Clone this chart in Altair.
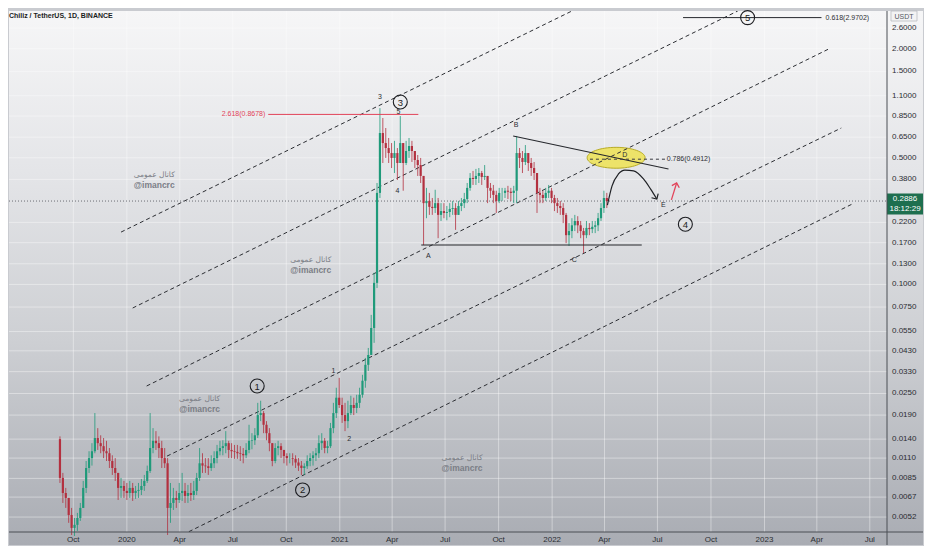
import altair as alt
import pandas as pd

W, H = 878, 521
FONT = "Liberation Sans"
UP, DOWN = "#1f9a7a", "#b3303f"
INK = "#2c2e33"
RED = "#e2445a"
TAG_GREEN = "#1e6f4f"
LABEL_INK = "#2b2d33"

# ---------------- candles (5-day candles) ----------------
CANDLE_START = "2019-09-08"
FIRST_OPEN = 0.0140
HIGH = [
    0.0145, 0.00911, 0.00753, 0.00663, 0.00584, 0.00514, 0.00548, 0.00622, 0.00823, 0.0106,
    0.0120, 0.0133, 0.0195, 0.0161, 0.0147, 0.0142, 0.0137, 0.0125, 0.0114, 0.0110,
    0.00911, 0.00855, 0.00823, 0.00802, 0.00823, 0.00802, 0.00772, 0.00802, 0.00844, 0.00888,
    0.0100, 0.0195, 0.0161, 0.0155, 0.0145, 0.0137, 0.0125, 0.0110, 0.00802, 0.00753,
    0.00725, 0.00802, 0.00911, 0.00802, 0.00782, 0.00802, 0.00823, 0.00911, 0.0125, 0.0117,
    0.0110, 0.0110, 0.0114, 0.0120, 0.0130, 0.0137, 0.0138, 0.0155, 0.0137, 0.0133,
    0.0130, 0.0130, 0.0128, 0.0125, 0.0133, 0.0168, 0.0151, 0.0161, 0.0222, 0.0228,
    0.0200, 0.0176, 0.0161, 0.0133, 0.0133, 0.0137, 0.0133, 0.0122, 0.0117, 0.0117,
    0.0117, 0.0114, 0.0110, 0.0106, 0.0103, 0.0114, 0.0117, 0.0120, 0.0125, 0.0147,
    0.0151, 0.0142, 0.0137, 0.0172, 0.0222, 0.0269, 0.0305, 0.0237, 0.0222, 0.0228,
    0.0243, 0.0237, 0.0246, 0.0269, 0.0317, 0.0393, 0.0446, 0.0679, 0.116, 0.363,
    0.94, 0.829, 0.730, 0.643, 0.603, 0.620, 0.566, 0.850, 0.603, 0.620,
    0.643, 0.620, 0.545, 0.518, 0.499, 0.397, 0.341, 0.320, 0.300, 0.333,
    0.300, 0.281, 0.281, 0.271, 0.281, 0.289, 0.281, 0.289, 0.300, 0.320,
    0.363, 0.412, 0.423, 0.434, 0.439, 0.423, 0.456, 0.397, 0.363, 0.354,
    0.329, 0.341, 0.341, 0.341, 0.350, 0.341, 0.350, 0.660, 0.566, 0.545,
    0.588, 0.531, 0.499, 0.474, 0.397, 0.341, 0.329, 0.341, 0.354, 0.341,
    0.312, 0.300, 0.289, 0.281, 0.248, 0.218, 0.232, 0.242, 0.238, 0.224,
    0.205, 0.224, 0.218, 0.224, 0.224, 0.248, 0.281, 0.329, 0.320,
]
LOW = [
    0.00802, 0.00622, 0.00584, 0.00483, 0.00414, 0.00409, 0.00436, 0.00495, 0.00584, 0.00706,
    0.00911, 0.0100, 0.0117, 0.0122, 0.0117, 0.0110, 0.0106, 0.00970, 0.00888, 0.00823,
    0.00646, 0.00663, 0.00663, 0.00646, 0.00663, 0.00638, 0.00655, 0.00663, 0.00688, 0.00725,
    0.00802, 0.00911, 0.0117, 0.0122, 0.0110, 0.00970, 0.00970, 0.00414, 0.00483, 0.00569,
    0.00584, 0.00622, 0.00638, 0.00622, 0.00622, 0.00638, 0.00646, 0.00688, 0.00823, 0.00911,
    0.00911, 0.00888, 0.00934, 0.00970, 0.0103, 0.0114, 0.0114, 0.0117, 0.0110, 0.0110,
    0.0109, 0.0109, 0.0106, 0.0103, 0.0110, 0.0117, 0.0123, 0.0130, 0.0142, 0.0176,
    0.0151, 0.0138, 0.0120, 0.00992, 0.0103, 0.0114, 0.0110, 0.0103, 0.0100, 0.0103,
    0.0100, 0.00970, 0.00934, 0.00888, 0.00888, 0.00958, 0.00992, 0.0100, 0.0106, 0.0110,
    0.0122, 0.0117, 0.0117, 0.0125, 0.0151, 0.0183, 0.0208, 0.0172, 0.0155, 0.0161,
    0.0190, 0.0190, 0.0195, 0.0208, 0.0237, 0.0269, 0.0333, 0.0446, 0.0476, 0.0955,
    0.300, 0.468, 0.499, 0.468, 0.439, 0.412, 0.377, 0.468, 0.329, 0.456,
    0.499, 0.474, 0.439, 0.397, 0.363, 0.165, 0.232, 0.242, 0.242, 0.248,
    0.180, 0.224, 0.232, 0.226, 0.235, 0.242, 0.200, 0.242, 0.254, 0.264,
    0.281, 0.329, 0.354, 0.354, 0.363, 0.354, 0.377, 0.281, 0.300, 0.281,
    0.248, 0.281, 0.289, 0.300, 0.296, 0.289, 0.281, 0.281, 0.439, 0.412,
    0.456, 0.423, 0.397, 0.377, 0.248, 0.281, 0.281, 0.289, 0.300, 0.281,
    0.254, 0.248, 0.242, 0.218, 0.169, 0.163, 0.180, 0.197, 0.192, 0.180,
    0.149, 0.180, 0.187, 0.192, 0.192, 0.197, 0.224, 0.248, 0.264,
]
CLOSE = [
    0.00855, 0.00706, 0.00663, 0.00534, 0.00453, 0.00471, 0.00514, 0.00584, 0.00753, 0.00970,
    0.0110, 0.0120, 0.0142, 0.0133, 0.0128, 0.0120, 0.0117, 0.0106, 0.00970, 0.00911,
    0.00753, 0.00772, 0.00725, 0.00706, 0.00753, 0.00706, 0.00725, 0.00734, 0.00772, 0.00823,
    0.00934, 0.0125, 0.0137, 0.0133, 0.0125, 0.0110, 0.0103, 0.00584, 0.00622, 0.00663,
    0.00646, 0.00706, 0.00725, 0.00680, 0.00706, 0.00688, 0.00725, 0.00855, 0.0103, 0.0100,
    0.00992, 0.00970, 0.0103, 0.0110, 0.0120, 0.0125, 0.0128, 0.0133, 0.0122, 0.0120,
    0.0119, 0.0117, 0.0116, 0.0114, 0.0122, 0.0137, 0.0138, 0.0147, 0.0190, 0.0195,
    0.0168, 0.0151, 0.0133, 0.0106, 0.0125, 0.0128, 0.0122, 0.0113, 0.0110, 0.0110,
    0.0109, 0.0104, 0.0100, 0.00970, 0.00992, 0.0106, 0.0110, 0.0114, 0.0117, 0.0133,
    0.0137, 0.0125, 0.0128, 0.0161, 0.0195, 0.0237, 0.0216, 0.0190, 0.0176, 0.0195,
    0.0216, 0.0208, 0.0222, 0.0246, 0.0294, 0.0360, 0.0408, 0.0575, 0.102, 0.320,
    0.685, 0.603, 0.566, 0.531, 0.499, 0.531, 0.468, 0.603, 0.468, 0.545,
    0.581, 0.545, 0.486, 0.456, 0.397, 0.281, 0.289, 0.268, 0.264, 0.281,
    0.242, 0.254, 0.248, 0.251, 0.261, 0.264, 0.242, 0.271, 0.281, 0.296,
    0.341, 0.387, 0.382, 0.397, 0.412, 0.392, 0.397, 0.341, 0.329, 0.312,
    0.289, 0.320, 0.320, 0.329, 0.325, 0.320, 0.329, 0.531, 0.499, 0.474,
    0.531, 0.468, 0.439, 0.412, 0.320, 0.312, 0.300, 0.320, 0.329, 0.300,
    0.281, 0.271, 0.264, 0.242, 0.187, 0.197, 0.212, 0.224, 0.212, 0.197,
    0.187, 0.205, 0.202, 0.208, 0.212, 0.232, 0.264, 0.300, 0.2886,
]

# ---------------- axes ----------------
X_DOMAIN = ["2019-06-21", "2023-07-22"]
Y_DOMAIN = [0.0043, 3.23]
X_TICKS = ["2019-10-01", "2020-01-01", "2020-04-01", "2020-07-01", "2020-10-01",
           "2021-01-01", "2021-04-01", "2021-07-01", "2021-10-01",
           "2022-01-01", "2022-04-01", "2022-07-01", "2022-10-01",
           "2023-01-01", "2023-04-01", "2023-07-01"]
X_TICK_LABELS = ["Oct", "2020", "Apr", "Jul", "Oct", "2021", "Apr", "Jul", "Oct",
                 "2022", "Apr", "Jul", "Oct", "2023", "Apr", "Jul"]
Y_TICKS = [2.6, 2.0, 1.5, 1.1, 0.85, 0.65, 0.5, 0.38, 0.22, 0.17, 0.13, 0.1, 0.075,
           0.055, 0.043, 0.033, 0.025, 0.019, 0.014, 0.011, 0.0085, 0.0067, 0.0052]
Y_TICK_LABELS = ["2.6000", "2.0000", "1.5000", "1.1000", "0.8500", "0.6500", "0.5000",
                 "0.3800", "0.2200", "0.1700", "0.1300", "0.1000", "0.0750", "0.0550",
                 "0.0430", "0.0330", "0.0250", "0.0190", "0.0140", "0.0110", "0.0085",
                 "0.0067", "0.0052"]
LAST_PRICE = 0.2886
LAST_PRICE_LABEL = "0.2886"
LAST_TIME = "18:12:29"
TITLE = "Chiliz / TetherUS, 1D, BINANCE"
UNIT = "USDT"

# ---------------- drawings ----------------
CH_ID = ["a", "a", "b", "b", "c", "c", "d", "d", "e", "e"]
CH_DATE = ["2019-12-22", "2022-02-04", "2020-01-11", "2022-11-16", "2020-02-04", "2023-04-21",
           "2020-03-10", "2023-05-13", "2020-03-26", "2023-06-04"]
CH_PRICE = [0.1945, 3.23, 0.0741, 3.23, 0.0275, 1.99, 0.01128, 0.730, 0.00399, 0.281]

PAT_ID = ["ac", "ac", "bd", "bd"]
PAT_DATE = ["2021-05-21", "2022-06-04", "2021-10-26", "2022-07-20"]
PAT_PRICE = [0.165, 0.165, 0.660, 0.434]

FIB_RED_DATE = ["2020-08-31", "2021-05-16"]
FIB_RED_PRICE = [0.8678, 0.8678]
FIB_TOP_DATE = ["2022-08-14", "2023-04-09"]
FIB_TOP_PRICE = [2.9702, 2.9702]
FIB_MID_DATE = ["2022-03-07", "2022-07-15"]
FIB_MID_PRICE = [0.4912, 0.4912]
FIB_TEXT = ["2.618(0.8678)", "0.786(0.4912)", "0.618(2.9702)"]
FIB_TEXT_DATE = ["2020-08-26", "2022-07-17", "2023-04-16"]
FIB_TEXT_PRICE = [0.8678, 0.4912, 2.9702]

ELLIPSE_DATE = ["2022-04-21"]
ELLIPSE_PRICE = [0.50]

CURVE_DATE = ["2022-04-06", "2022-04-14", "2022-04-25", "2022-05-06", "2022-05-21",
              "2022-06-07", "2022-06-19", "2022-06-30"]
CURVE_PRICE = [0.274, 0.350, 0.407, 0.428, 0.423, 0.382, 0.337, 0.296]
RED_DATE = ["2022-07-25", "2022-08-03"]
RED_PRICE = [0.293, 0.363]

WAVE_NUM = ["1", "2", "3", "4", "5"]
WAVE_DATE = ["2020-08-12", "2020-10-29", "2021-04-15", "2022-08-18", "2022-12-03"]
WAVE_PRICE = [0.0275, 0.00734, 1.016, 0.215, 2.9702]

LBL_TEXT = ["1", "2", "3", "4", "5", "A", "B", "C", "D", "E"]
LBL_DATE = ["2020-12-21", "2021-01-17", "2021-03-11", "2021-04-10", "2021-04-12",
            "2021-06-02", "2021-10-31", "2022-02-08", "2022-05-06", "2022-07-11"]
LBL_PRICE = [0.0333, 0.0140, 1.08, 0.329, 0.894, 0.1435, 0.759, 0.1365, 0.518, 0.274]

WM_DATE = ["2020-02-17", "2020-11-12", "2020-05-05", "2021-07-30"]
WM_PRICE = [0.377, 0.128, 0.0219, 0.0103]
WM_LINE1 = "کانال عمومی"
WM_LINE2 = "@imancrc"

# ---------------- build ----------------
assert len(HIGH) == len(LOW) == len(CLOSE)
dates = pd.date_range(CANDLE_START, periods=len(CLOSE), freq="5D")
opens = [FIRST_OPEN] + CLOSE[:-1]
dfc = pd.DataFrame({"date": dates.strftime("%Y-%m-%d"), "open": opens,
                    "high": HIGH, "low": LOW, "close": CLOSE})
dfc["high"] = dfc[["open", "high", "close"]].max(axis=1)
dfc["low"] = dfc[["open", "low", "close"]].min(axis=1)


def ms(s):
    return int(pd.Timestamp(s, tz="UTC").value // 10**6)


xs = alt.Scale(type="utc", domain=[ms(X_DOMAIN[0]), ms(X_DOMAIN[1])], nice=False)
ys = alt.Scale(type="log", domain=Y_DOMAIN, nice=False)


def XT(field):
    return alt.X(f"{field}:T", scale=xs, axis=None)


def YQ(field):
    return alt.Y(f"{field}:Q", scale=ys, axis=None)


one = pd.DataFrame({"k": [0]})

bg = alt.Chart(one).mark_rect(
    fill=alt.LinearGradient(gradient="linear", x1=0, y1=0, x2=0, y2=1, stops=[
        alt.GradientStop(offset=0, color="#f6f6f7"),
        alt.GradientStop(offset=0.3, color="#e4e5e8"),
        alt.GradientStop(offset=0.62, color="#cdcfd3"),
        alt.GradientStop(offset=1, color="#a9acb3"),
    ])
).encode(x=alt.value(0), x2=alt.value(W + 36), y=alt.value(0), y2=alt.value(H + 13))

xt_df = pd.DataFrame({"t": X_TICKS, "l": X_TICK_LABELS})
yt_df = pd.DataFrame({"p": Y_TICKS, "l": Y_TICK_LABELS})

grid_x = alt.Chart(xt_df).mark_rule(
    color="#ffffff", opacity=0.4, strokeWidth=1
).encode(x=XT("t"), y=alt.value(0), y2=alt.value(H))
grid_y = alt.Chart(yt_df).mark_rule(
    color="#ffffff", opacity=0.4, strokeWidth=1
).encode(y=YQ("p"), x=alt.value(0), x2=alt.value(W))

x_labels = alt.Chart(xt_df).mark_text(
    font=FONT, fontSize=8, color=LABEL_INK, baseline="middle"
).encode(x=XT("t"), y=alt.value(H + 7.5), text="l:N")
y_labels = alt.Chart(yt_df).mark_text(
    font=FONT, fontSize=8, color=LABEL_INK, baseline="middle", align="left"
).encode(y=YQ("p"), x=alt.value(W + 5), text="l:N")

wm = pd.DataFrame({"d": WM_DATE, "p": WM_PRICE})
wm1 = alt.Chart(wm).mark_text(text=WM_LINE1, font="DejaVu Sans", fontSize=7.5,
                              color="#7b7e86", dy=-5).encode(x=XT("d"), y=YQ("p"))
wm2 = alt.Chart(wm).mark_text(text=WM_LINE2, font=FONT, fontSize=8.5, fontWeight="bold",
                              color="#7b7e86", dy=5).encode(x=XT("d"), y=YQ("p"))

ELLIPSE_PATH = "M -1 0 A 1 0.36 0 1 0 1 0 A 1 0.36 0 1 0 -1 0 Z"
ellipse = alt.Chart(pd.DataFrame({"d": ELLIPSE_DATE, "p": ELLIPSE_PRICE})).mark_point(
    shape=ELLIPSE_PATH, size=58 * 58, filled=True, fill="#eee35f", stroke="#b5a81a",
    strokeWidth=1, opacity=0.92
).encode(x=XT("d"), y=YQ("p"))

chan = alt.Chart(pd.DataFrame({"id": CH_ID, "d": CH_DATE, "p": CH_PRICE})).mark_line(
    strokeDash=[4, 3], strokeWidth=1, color=INK, clip=True
).encode(x=XT("d"), y=YQ("p"), detail="id:N")

price_line = alt.Chart(pd.DataFrame({"p": [LAST_PRICE]})).mark_rule(
    strokeDash=[1, 2], color="#6b6e75", strokeWidth=1
).encode(y=YQ("p"), x=alt.value(0), x2=alt.value(W))

cond = alt.condition("datum.close >= datum.open", alt.value(UP), alt.value(DOWN))
base = alt.Chart(dfc)
wick = base.mark_rule(strokeWidth=0.8).encode(
    x=XT("date"), y=YQ("low"), y2="high:Q", color=cond)
body = base.mark_bar(width=2.2).encode(
    x=XT("date"), y=YQ("open"), y2="close:Q", color=cond)

pat = alt.Chart(pd.DataFrame({"id": PAT_ID, "d": PAT_DATE, "p": PAT_PRICE})).mark_line(
    color="#26282d", strokeWidth=1.1
).encode(x=XT("d"), y=YQ("p"), detail="id:N")

fib_red = alt.Chart(pd.DataFrame({"d": FIB_RED_DATE, "p": FIB_RED_PRICE})).mark_line(
    color=RED, strokeWidth=1).encode(x=XT("d"), y=YQ("p"))
fib_top = alt.Chart(pd.DataFrame({"d": FIB_TOP_DATE, "p": FIB_TOP_PRICE})).mark_line(
    color="#26282d", strokeWidth=1).encode(x=XT("d"), y=YQ("p"))
fib_mid = alt.Chart(pd.DataFrame({"d": FIB_MID_DATE, "p": FIB_MID_PRICE})).mark_line(
    color="#3a3c42", strokeWidth=1, strokeDash=[3, 3]).encode(x=XT("d"), y=YQ("p"))
fib_df = pd.DataFrame({"t": FIB_TEXT, "d": FIB_TEXT_DATE, "p": FIB_TEXT_PRICE})
fib_txt_r = alt.Chart(fib_df.iloc[[0]]).mark_text(
    align="right", baseline="middle", font=FONT, fontSize=7, color=RED
).encode(x=XT("d"), y=YQ("p"), text="t:N")
fib_txt_l = alt.Chart(fib_df.iloc[[1, 2]]).mark_text(
    align="left", baseline="middle", font=FONT, fontSize=7, color="#2c2e33"
).encode(x=XT("d"), y=YQ("p"), text="t:N")

CHEVRON = "M -1 -1 L 0 0 L 1 -1"
curve_df = pd.DataFrame({"d": CURVE_DATE, "p": CURVE_PRICE})
curve = alt.Chart(curve_df).mark_line(
    interpolate="monotone", color="#1f2125", strokeWidth=1.2
).encode(x=XT("d"), y=YQ("p"))
curve_head = alt.Chart(curve_df.tail(1)).mark_point(
    shape=CHEVRON, size=60, filled=False, stroke="#1f2125", strokeWidth=1.2, angle=329,
    opacity=1
).encode(x=XT("d"), y=YQ("p"))
red_df = pd.DataFrame({"d": RED_DATE, "p": RED_PRICE})
red_arrow = alt.Chart(red_df).mark_line(color=RED, strokeWidth=1.3).encode(x=XT("d"), y=YQ("p"))
red_head = alt.Chart(red_df.tail(1)).mark_point(
    shape=CHEVRON, size=60, filled=False, stroke=RED, strokeWidth=1.3, angle=196, opacity=1
).encode(x=XT("d"), y=YQ("p"))

wave_df = pd.DataFrame({"n": WAVE_NUM, "d": WAVE_DATE, "p": WAVE_PRICE})
wave_circ = alt.Chart(wave_df).mark_point(
    shape="circle", size=196, filled=False, stroke="#1c1d21", strokeWidth=1.1, opacity=1
).encode(x=XT("d"), y=YQ("p"))
wave_num = alt.Chart(wave_df).mark_text(
    font=FONT, fontSize=9.5, color="#1c1d21", baseline="middle", dy=0.5
).encode(x=XT("d"), y=YQ("p"), text="n:N")

lbl = alt.Chart(pd.DataFrame({"t": LBL_TEXT, "d": LBL_DATE, "p": LBL_PRICE})).mark_text(
    font=FONT, fontSize=7, color="#2c2e33", baseline="middle"
).encode(x=XT("d"), y=YQ("p"), text="t:N")

TAG_PATH = "M -1 -0.583 H 1 V 0.583 H -1 Z"
last_df = pd.DataFrame({"p": [LAST_PRICE], "v": [LAST_PRICE_LABEL], "t": [LAST_TIME]})
tag = alt.Chart(last_df).mark_point(
    shape=TAG_PATH, size=36 * 36, filled=True, fill=TAG_GREEN, opacity=1, yOffset=3
).encode(x=alt.value(W + 18), y=YQ("p"))
tag_v = alt.Chart(last_df).mark_text(
    font=FONT, fontSize=8, color="white", baseline="middle", dy=-2
).encode(x=alt.value(W + 18), y=YQ("p"), text="v:N")
tag_t = alt.Chart(last_df).mark_text(
    font=FONT, fontSize=8, color="white", baseline="middle", dy=8
).encode(x=alt.value(W + 18), y=YQ("p"), text="t:N")

USDT_PATH = "M -1 -0.385 H 1 V 0.385 H -1 Z"
usdt_box = alt.Chart(one).mark_point(
    shape=USDT_PATH, size=26 * 26, filled=True, fill="#f3f3f4", stroke="#b9bbc0",
    strokeWidth=0.8, opacity=1
).encode(x=alt.value(W + 17), y=alt.value(5))
usdt_txt = alt.Chart(one).mark_text(
    text=UNIT, font=FONT, fontSize=7, color="#55585f", baseline="middle"
).encode(x=alt.value(W + 17), y=alt.value(5.5))

title = alt.Chart(one).mark_text(
    text=TITLE, font=FONT, fontSize=7, fontWeight="bold", color="#1b1d22",
    align="left", baseline="top"
).encode(x=alt.value(0), y=alt.value(1))

border_v = alt.Chart(one).mark_rule(color="#4b4e55", strokeWidth=1).encode(
    x=alt.value(W), y=alt.value(0), y2=alt.value(H + 13))
border_h = alt.Chart(one).mark_rule(color="#4b4e55", strokeWidth=1).encode(
    y=alt.value(H), x=alt.value(0), x2=alt.value(W + 36))

chart = alt.layer(
    bg, grid_x, grid_y, wm1, wm2, ellipse, chan, price_line, wick, body,
    pat, fib_red, fib_top, fib_mid, fib_txt_r, fib_txt_l,
    curve, curve_head, red_arrow, red_head, wave_circ, wave_num, lbl,
    x_labels, y_labels, tag, tag_v, tag_t, usdt_box, usdt_txt, title, border_v, border_h
).properties(
    width=W, height=H, padding=0, background="#c9cbd0"
).configure_view(stroke=None)

chart.save("out.html", embed_options={"renderer": "svg", "actions": False})
